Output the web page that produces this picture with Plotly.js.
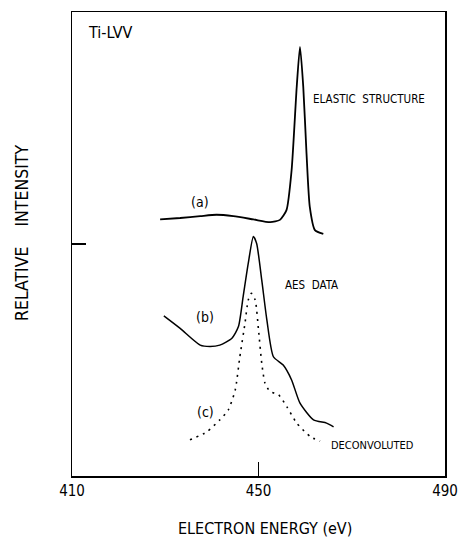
<!DOCTYPE html>
<html><head><meta charset="utf-8">
<script src="https://cdn.plot.ly/plotly-3.0.1.min.js"></script>
<style>html,body{margin:0;padding:0;background:#fff}#chart{width:458px;height:537px}</style>
</head><body><div id="chart"></div>
<script>
// (a) elastic structure
const energyA = [428.9,433.2,437.5,441.0,444.6,448.9,452.5,454.6,456.0,457.1,458.2,458.9,459.6,460.3,461.0,462.1,463.9];
const intensityA = [55.3,55.6,56.0,56.3,56.0,55.3,54.7,55.2,57.3,65.9,83.9,92.5,83.9,69.5,58.0,53.0,52.2];
// (b) AES data
const energyB = [429.7,433.2,437.5,439.6,441.7,444.3,445.7,446.7,447.8,448.9,449.6,450.7,451.8,453.2,455.3,457.1,458.9,461.8,464.6,466.1];
const intensityB = [34.5,31.8,28.2,27.9,28.2,29.7,32.2,38.6,45.8,51.6,50.1,42.2,33.6,25.7,23.9,20.7,15.7,12.1,11.4,10.6];
// (c) deconvoluted
const energyC = [435.3,438.9,441.7,443.5,445.0,446.0,447.1,447.8,448.5,449.3,450.0,450.7,451.4,452.5,454.3,456.1,458.2,461.1,463.2];
const intensityC = [7.8,9.5,12.1,14.2,18.5,25.7,32.9,37.9,39.4,37.9,31.5,24.3,20.0,18.2,17.5,14.9,11.4,8.5,7.5];
const xTicks = [410,450,490];
const xTickText = ['410','450','490'];

const F = '"DejaVu Sans Condensed", "DejaVu Sans", sans-serif';
const traces = [
  {x: energyA, y: intensityA, mode:'lines', line:{color:'#000', width:1.8, shape:'spline', smoothing:0.6}, hoverinfo:'skip'},
  {x: energyB, y: intensityB, mode:'lines', line:{color:'#000', width:1.5, shape:'spline', smoothing:0.6}, hoverinfo:'skip'},
  {x: energyC, y: intensityC, mode:'lines', line:{color:'#000', width:1.6, dash:'2px,5px', shape:'spline', smoothing:0.6}, hoverinfo:'skip'}
];
function ann(text, x, y, size, xanchor, angle){
  return {text, x, y, xref:'paper', yref:'paper', showarrow:false, xanchor: xanchor||'left', yanchor:'middle', textangle: angle||0, font:{family:F, size, color:'#000'}};
}
// paper coords: plot left 72, width 373; top 12, height 464
function px(p){return (p-72)/373;}
function py(p){return (476-p)/464;}
const layout = {
  width:458, height:537,
  margin:{l:72, r:13, t:12, b:61},
  paper_bgcolor:'#fff', plot_bgcolor:'#fff',
  showlegend:false,
  xaxis:{range:[410,490], tickvals:xTicks, ticktext:xTickText, ticks:'inside', ticklen:14, tickwidth:1.5, tickcolor:'#000',
    showline:true, mirror:true, linecolor:'#000', linewidth:1.5, showgrid:false, zeroline:false,
    tickfont:{family:F, size:15, color:'#000'}},
  yaxis:{range:[0,100], tickvals:[50], ticktext:[''], ticks:'inside', ticklen:14, tickwidth:1.5, tickcolor:'#000',
    showline:true, mirror:true, linecolor:'#000', linewidth:1.5, showgrid:false, zeroline:false},
  annotations:[
    ann('ELECTRON ENERGY (eV)', px(265), py(528), 16, 'center'),
    {text:'RELATIVE&nbsp;&nbsp;&nbsp; INTENSITY', x:px(22), y:py(233), xref:'paper', yref:'paper', showarrow:false, xanchor:'center', yanchor:'middle', textangle:-90, font:{family:F, size:17.5, color:'#000'}},
    ann('Ti-LVV', px(86), py(33), 16),
    ann('ELASTIC  STRUCTURE', px(311), py(99), 11.5),
    ann('(a)', px(189), py(202), 14),
    ann('AES  DATA', px(283), py(285), 11.5),
    ann('(b)', px(194), py(317), 14),
    ann('(c)', px(195), py(412), 14),
    ann('DECONVOLUTED', px(329), py(445), 11)
  ]
};
Plotly.newPlot('chart', traces, layout, {staticPlot:true, displayModeBar:false});
</script></body></html>
